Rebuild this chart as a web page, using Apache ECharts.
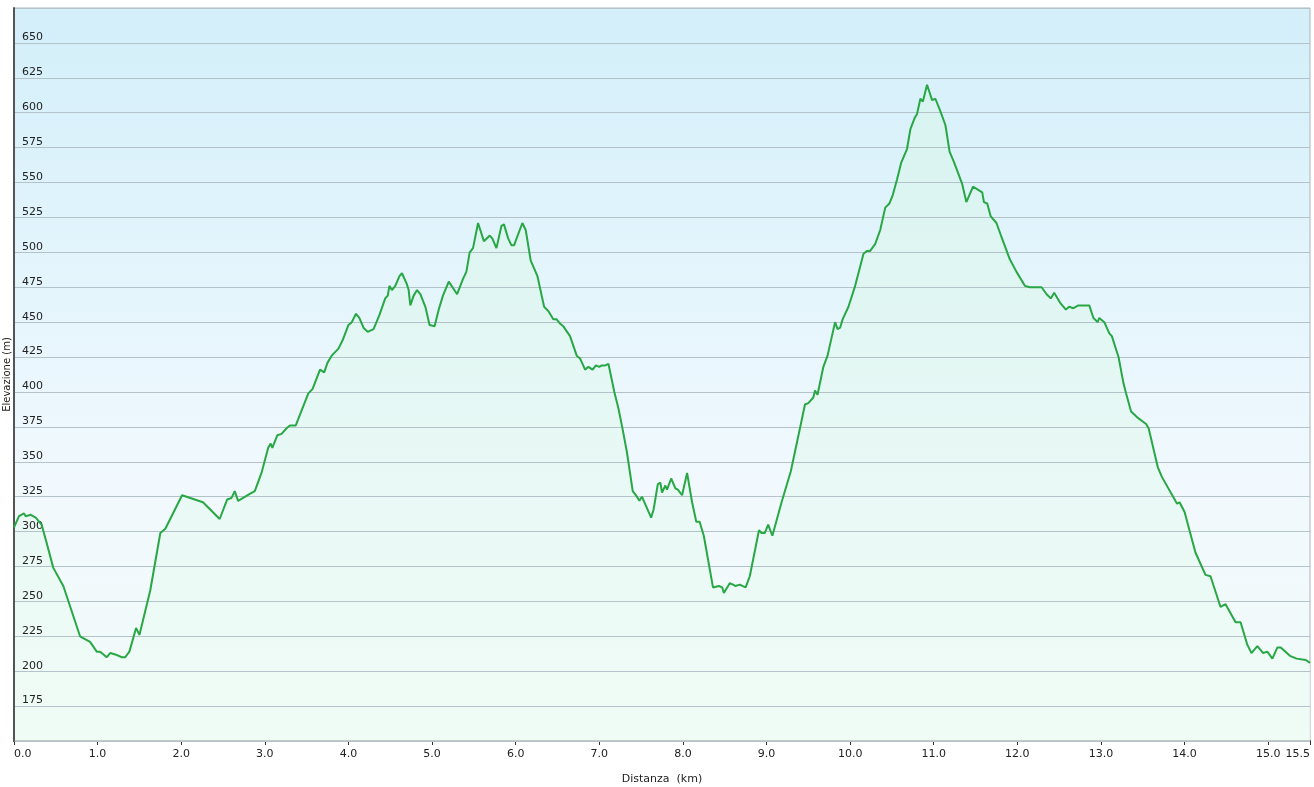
<!DOCTYPE html>
<html>
<head>
<meta charset="utf-8">
<title>Profilo altimetrico</title>
<script src="https://cdn.jsdelivr.net/npm/echarts@6/dist/echarts.min.js"></script>
<style>
  html, body { margin: 0; padding: 0; background: #ffffff; }
  #chart { width: 1314px; height: 787px; }
</style>
</head>
<body>
<div id="chart"></div>
<script>
// distance (km) and elevation (m)
var distanceKm = [
  0.00, 0.06, 0.12, 0.14, 0.20, 0.26, 0.33, 0.39, 0.47, 0.59, 0.79, 0.91, 0.99, 1.03, 1.11, 1.15, 1.21, 1.29, 1.33, 1.38,
  1.46, 1.50, 1.63, 1.75, 1.81, 2.01, 2.26, 2.46, 2.55, 2.60, 2.64, 2.68, 2.82, 2.88, 2.96, 3.04, 3.07, 3.09, 3.15, 3.20,
  3.26, 3.30, 3.37, 3.52, 3.57, 3.66, 3.71, 3.75, 3.80, 3.88, 3.93, 4.00, 4.04, 4.09, 4.13, 4.18, 4.23, 4.30, 4.37, 4.44,
  4.47, 4.49, 4.52, 4.56, 4.61, 4.64, 4.70, 4.72, 4.74, 4.78, 4.82, 4.86, 4.92, 4.97, 5.03, 5.08, 5.13, 5.20, 5.22, 5.30,
  5.37, 5.41, 5.45, 5.49, 5.55, 5.57, 5.62, 5.69, 5.72, 5.77, 5.83, 5.86, 5.91, 5.95, 5.98, 6.08, 6.12, 6.18, 6.21, 6.26,
  6.34, 6.39, 6.45, 6.49, 6.53, 6.57, 6.65, 6.73, 6.77, 6.83, 6.87, 6.92, 6.96, 7.00, 7.03, 7.07, 7.11, 7.13, 7.18, 7.23,
  7.28, 7.33, 7.40, 7.45, 7.48, 7.51, 7.62, 7.65, 7.70, 7.73, 7.75, 7.79, 7.81, 7.86, 7.91, 7.94, 7.99, 8.05, 8.11, 8.16,
  8.20, 8.25, 8.36, 8.43, 8.47, 8.49, 8.56, 8.60, 8.63, 8.68, 8.75, 8.80, 8.91, 8.94, 8.98, 9.02, 9.04, 9.07, 9.18, 9.29,
  9.40, 9.46, 9.50, 9.56, 9.58, 9.61, 9.68, 9.73, 9.82, 9.85, 9.88, 9.91, 9.98, 10.06, 10.16, 10.20, 10.24, 10.30, 10.36, 10.42,
  10.47, 10.51, 10.56, 10.61, 10.63, 10.68, 10.72, 10.77, 10.80, 10.84, 10.87, 10.92, 10.98, 11.02, 11.08, 11.14, 11.19, 11.24, 11.26, 11.34,
  11.39, 11.47, 11.58, 11.60, 11.64, 11.68, 11.75, 11.81, 11.91, 11.99, 12.09, 12.15, 12.29, 12.35, 12.40, 12.44, 12.51, 12.58, 12.62, 12.67,
  12.73, 12.86, 12.91, 12.96, 12.98, 13.04, 13.10, 13.13, 13.21, 13.27, 13.30, 13.36, 13.43, 13.54, 13.57, 13.68, 13.73, 13.89, 13.91, 13.94,
  14.00, 14.13, 14.25, 14.31, 14.43, 14.49, 14.61, 14.67, 14.75, 14.80, 14.87, 14.94, 14.99, 15.05, 15.11, 15.15, 15.26, 15.34, 15.45, 15.50
];
var elevationM = [
  303, 311, 313, 311, 312, 310, 305, 292, 274, 261, 225, 221, 214, 214, 210, 213, 212, 210, 210, 214,
  231, 226, 258, 299, 302, 326, 321, 309, 323, 324, 329, 322, 327, 329, 342, 360, 363, 360, 369, 370,
  374, 376, 376, 399, 402, 416, 414, 421, 426, 431, 437, 448, 450, 456, 453, 446, 443, 445, 455, 467,
  469, 476, 473, 476, 483, 485, 477, 473, 462, 469, 473, 470, 461, 448, 447, 459, 469, 479, 479, 470,
  481, 486, 500, 503, 521, 520, 508, 512, 510, 503, 519, 520, 510, 505, 505, 521, 516, 494, 490, 483,
  461, 458, 452, 452, 449, 447, 440, 426, 424, 416, 418, 416, 419, 418, 419, 419, 420, 419, 400, 388,
  373, 357, 329, 325, 322, 325, 310, 316, 334, 335, 328, 333, 330, 338, 331, 330, 326, 342, 321, 307,
  307, 297, 260, 261, 260, 256, 263, 262, 261, 262, 260, 268, 301, 299, 299, 305, 304, 297, 321, 343,
  374, 391, 392, 396, 401, 398, 418, 426, 450, 445, 446, 452, 461, 476, 499, 501, 501, 506, 516, 532,
  535, 541, 552, 564, 563, 574, 588, 596, 599, 610, 608, 620, 609, 610, 601, 591, 572, 565, 564, 549,
  536, 547, 543, 536, 535, 526, 521, 511, 495, 486, 476, 475, 475, 470, 467, 471, 464, 459, 461, 460,
  462, 462, 453, 450, 453, 450, 442, 440, 425, 406, 399, 386, 382, 377, 374, 346, 339, 322, 320, 321,
  314, 285, 269, 268, 246, 248, 235, 235, 219, 213, 218, 213, 214, 209, 217, 217, 211, 209, 208, 206
];
var elevationTicks = { min: 150, max: 675, step: 25 };
var distanceTicks = { min: 0, max: 15.5, step: 1 };

var profile = distanceKm.map(function (d, i) { return [d, elevationM[i]]; });

var chart = echarts.init(document.getElementById('chart'));

var labelFont = 'Verdana, "DejaVu Sans", sans-serif';

chart.setOption({
    animation: false,
    grid: {
        left: 14,
        right: 4,
        top: 8,
        bottom: 46,
        outerBoundsMode: 'none',
        show: true,
        borderColor: '#a9b5bb',
        borderWidth: 1,
        backgroundColor: new echarts.graphic.LinearGradient(0, 0, 0, 1, [
            { offset: 0, color: '#d3effa' },
            { offset: 0.65, color: '#f1f9fe' },
            { offset: 1, color: '#f2fbf8' }
        ])
    },
    xAxis: {
        type: 'value',
        min: distanceTicks.min,
        max: distanceTicks.max,
        interval: distanceTicks.step,
        name: 'Distanza  (km)',
        nameLocation: 'middle',
        nameGap: 33,
        nameTextStyle: { color: '#222', fontSize: 11, fontFamily: labelFont },
        axisLine: { show: true, lineStyle: { color: '#555', width: 2 } },
        axisTick: { show: true, length: 4, lineStyle: { color: '#333' } },
        axisLabel: {
            color: '#222',
            fontSize: 11,
            fontFamily: labelFont,
            margin: 8,
            alignMinLabel: 'left',
            alignMaxLabel: 'right',
            formatter: function (v) { return v.toFixed(1); }
        },
        splitLine: { show: false }
    },
    yAxis: {
        type: 'value',
        z: 2,
        min: elevationTicks.min,
        max: elevationTicks.max,
        interval: elevationTicks.step,
        name: 'Elevazione (m)',
        nameLocation: 'middle',
        nameGap: 7,
        nameMoveOverlap: false,
        nameTextStyle: { color: '#222', fontSize: 10, fontFamily: labelFont, verticalAlign: 'middle' },
        axisLine: { show: true, lineStyle: { color: '#555', width: 2 } },
        axisTick: { show: false },
        axisLabel: {
            inside: true,
            margin: 8,
            color: '#222',
            fontSize: 11,
            fontFamily: labelFont,
            verticalAlign: 'bottom',
            showMinLabel: false,
            showMaxLabel: false
        },
        splitLine: { show: true, lineStyle: { color: '#b4c3ca', width: 1 } }
    },
    series: [{
        // filled area, kept under the grid lines and labels
        type: 'line',
        z: 1,
        data: profile,
        showSymbol: false,
        silent: true,
        lineStyle: { width: 0 },
        areaStyle: {
            color: new echarts.graphic.LinearGradient(0, 0, 0, 1, [
                { offset: 0, color: '#d7f4ec' },
                { offset: 1, color: '#effcf5' }
            ])
        }
    }, {
        // profile line on top
        type: 'line',
        z: 3,
        data: profile,
        showSymbol: false,
        lineStyle: { color: '#28a745', width: 2 }
    }]
});

window.addEventListener('resize', function () { chart.resize(); });
</script>
</body>
</html>
